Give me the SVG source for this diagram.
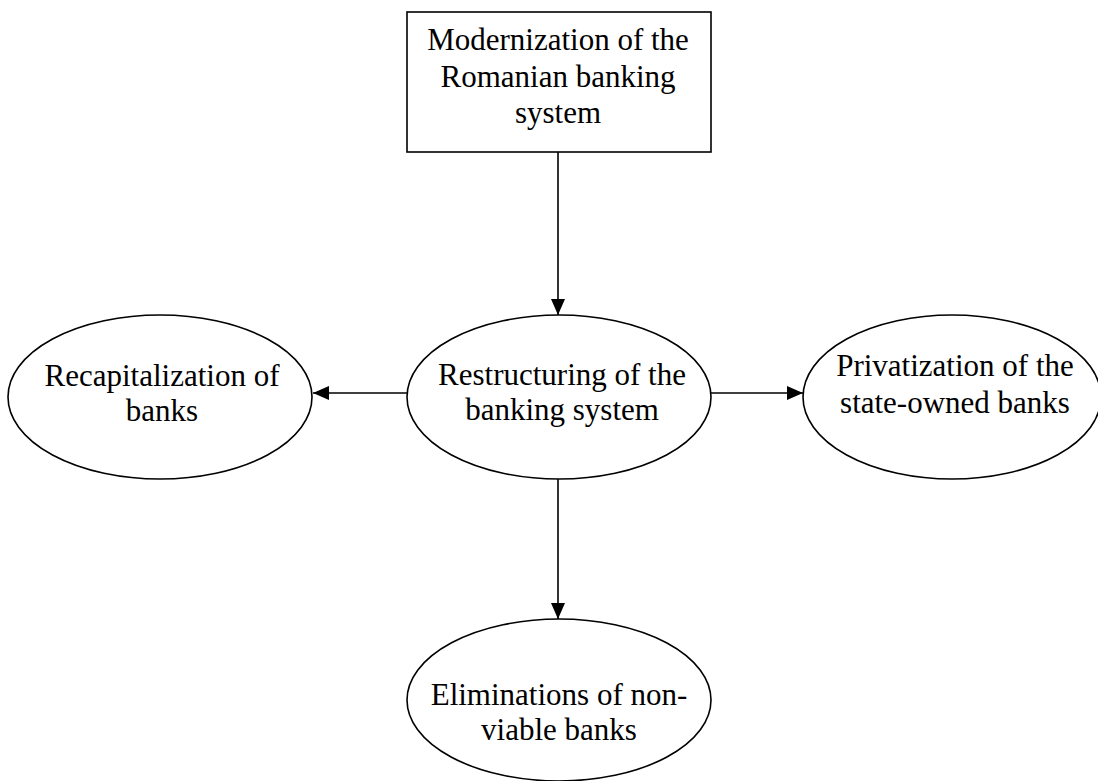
<svg xmlns="http://www.w3.org/2000/svg" width="1098" height="781" viewBox="0 0 1098 781">
<style>
.shape{fill:#fff;stroke:#000;stroke-width:1.6}
.lbl{font-family:"Liberation Serif","Times New Roman",serif;font-size:31px;fill:#000;text-anchor:middle}
.conn{stroke:#000;stroke-width:1.6;fill:none}
</style>
<defs>
<marker id="arr" markerWidth="16" markerHeight="14" refX="16" refY="7" orient="auto" markerUnits="userSpaceOnUse">
<path d="M0,0 L16,7 L0,14 Z" fill="#000"/>
</marker>
</defs>
<rect width="1098" height="781" fill="#fff"/>
<g id="connectors">
<line class="conn" x1="558" y1="152" x2="558" y2="315" marker-end="url(#arr)"/>
<line class="conn" x1="407" y1="393" x2="313" y2="393" marker-end="url(#arr)"/>
<line class="conn" x1="711" y1="393" x2="803" y2="393" marker-end="url(#arr)"/>
<line class="conn" x1="558" y1="478" x2="558" y2="619" marker-end="url(#arr)"/>
</g>
<g id="modernization">
<rect class="shape" x="407" y="12" width="304" height="140"/>
<text class="lbl" x="558" y="50">Modernization of the</text>
<text class="lbl" x="558" y="87">Romanian banking</text>
<text class="lbl" x="558" y="123">system</text>
</g>
<g id="restructuring">
<ellipse class="shape" cx="559" cy="397" rx="152" ry="82"/>
<text class="lbl" x="562" y="385">Restructuring of the</text>
<text class="lbl" x="562" y="420">banking system</text>
</g>
<g id="recapitalization">
<ellipse class="shape" cx="160" cy="397" rx="152" ry="82"/>
<text class="lbl" x="162" y="386">Recapitalization of</text>
<text class="lbl" x="162" y="421">banks</text>
</g>
<g id="privatization">
<ellipse class="shape" cx="952" cy="397" rx="149" ry="82"/>
<text class="lbl" x="955" y="376">Privatization of the</text>
<text class="lbl" x="955" y="413">state-owned banks</text>
</g>
<g id="eliminations">
<ellipse class="shape" cx="559" cy="700" rx="152" ry="81"/>
<text class="lbl" x="559" y="705">Eliminations of non-</text>
<text class="lbl" x="559" y="740">viable banks</text>
</g>
</svg>
